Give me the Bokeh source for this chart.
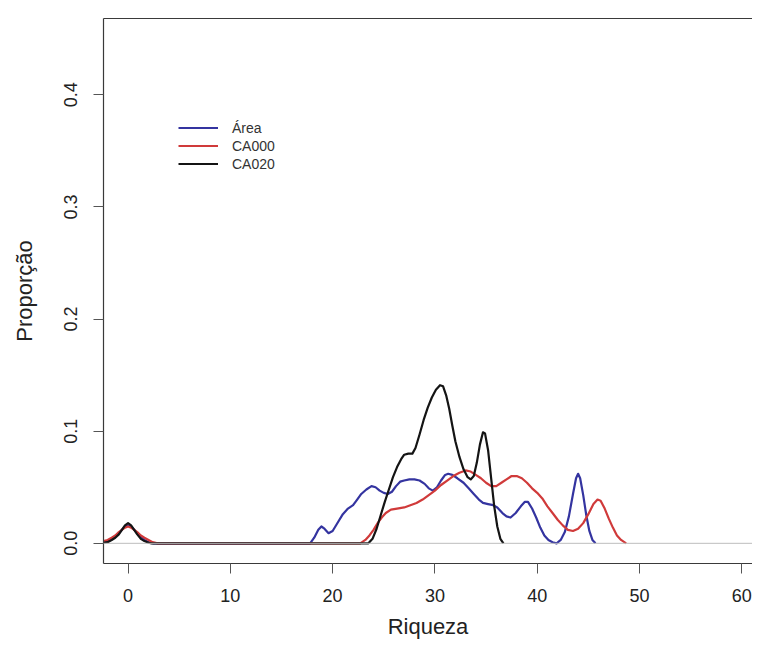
from bokeh.plotting import figure
from bokeh.models import Range1d, FixedTicker, LinearAxis, Legend, LegendItem, Span
from bokeh.embed import file_html
from bokeh.resources import INLINE

# ---- data ----
area_x = [-2.4, -2.0, -1.6, -1.25, -0.9, -0.6, -0.3, 0.0, 0.3, 0.6, 0.9, 1.25, 1.6, 2.0, 2.5,
          17.8, 18.2, 18.6, 18.9, 19.2, 19.6, 20.0, 20.4, 21.0, 21.5, 22.0, 22.4, 22.8, 23.3,
          23.8, 24.2, 24.6, 25.0, 25.4, 25.8, 26.2, 26.6, 27.0, 27.5, 28.0, 28.5, 29.0, 29.4,
          29.8, 30.2, 30.6, 31.0, 31.3, 31.7, 32.2, 32.8, 33.3, 33.8, 34.3, 34.7, 35.2, 35.7,
          36.1, 36.6, 37.0, 37.4, 37.9, 38.4, 38.8, 39.1, 39.5, 39.9, 40.3, 40.7, 41.1, 41.5,
          41.9, 42.3, 42.7, 43.1, 43.5, 43.8, 44.0, 44.2, 44.5, 44.8, 45.1, 45.4, 45.7]
area_y = [0.001, 0.002, 0.004, 0.006, 0.009, 0.012, 0.015, 0.016, 0.015, 0.012, 0.009, 0.006, 0.003, 0.001, 0.0,
          0.0, 0.005, 0.012, 0.015, 0.013, 0.009, 0.011, 0.017, 0.026, 0.031, 0.034, 0.039, 0.044, 0.048,
          0.051, 0.050, 0.047, 0.045, 0.044, 0.046, 0.051, 0.055, 0.056, 0.057, 0.057, 0.056, 0.053, 0.049,
          0.047, 0.050, 0.056, 0.061, 0.062, 0.061, 0.058, 0.054, 0.049, 0.044, 0.039, 0.036, 0.035, 0.034,
          0.032, 0.027, 0.024, 0.023, 0.027, 0.033, 0.037, 0.037, 0.031, 0.023, 0.014, 0.007, 0.003, 0.001,
          0.0, 0.003, 0.010, 0.024, 0.044, 0.058, 0.062, 0.058, 0.043, 0.025, 0.011, 0.003, 0.0]

ca000_x = [-2.4, -2.0, -1.6, -1.25, -0.9, -0.6, -0.3, 0.0, 0.3, 0.6, 0.9, 1.25, 1.6, 2.0, 2.4, 2.9,
           22.7, 23.2, 23.6, 24.0, 24.4, 24.8, 25.2, 25.7, 26.3, 27.0, 27.6, 28.2, 28.8, 29.4,
           30.0, 30.6, 31.2, 31.8, 32.4, 33.0, 33.5, 34.0, 34.5, 35.0, 35.5, 36.0, 36.5, 37.0,
           37.5, 38.0, 38.5, 39.0, 39.5, 40.0, 40.5, 41.0, 41.5, 42.0, 42.5, 43.0, 43.5, 44.0,
           44.5, 45.0, 45.5, 45.9, 46.2, 46.6, 47.0, 47.4, 47.8, 48.2, 48.7]
ca000_y = [0.002, 0.003, 0.005, 0.007, 0.010, 0.012, 0.014, 0.015, 0.014, 0.012, 0.010, 0.007, 0.005, 0.003, 0.001, 0.0,
           0.0, 0.003, 0.007, 0.012, 0.018, 0.023, 0.027, 0.030, 0.031, 0.032, 0.034, 0.036, 0.039, 0.043,
           0.047, 0.052, 0.056, 0.060, 0.063, 0.065, 0.064, 0.061, 0.058, 0.054, 0.051, 0.051, 0.054, 0.057,
           0.060, 0.060, 0.058, 0.054, 0.049, 0.045, 0.040, 0.033, 0.027, 0.021, 0.016, 0.012, 0.011, 0.013,
           0.018, 0.026, 0.035, 0.039, 0.038, 0.031, 0.022, 0.014, 0.007, 0.003, 0.0]

ca020_x = [-2.4, -2.0, -1.6, -1.25, -0.9, -0.6, -0.3, 0.0, 0.3, 0.6, 0.9, 1.25, 1.6, 2.0, 2.3,
           23.5, 23.9, 24.3, 24.7, 25.1, 25.5, 25.9, 26.3, 26.7, 27.0, 27.4, 27.8, 28.1, 28.5,
           28.9, 29.3, 29.7, 30.1, 30.5, 30.8, 31.1, 31.4, 31.7, 32.0, 32.4, 32.8, 33.2, 33.5,
           33.8, 34.1, 34.4, 34.7, 34.9, 35.2, 35.5, 35.8, 36.1, 36.4, 36.7]
ca020_y = [0.0005, 0.001, 0.003, 0.005, 0.008, 0.012, 0.016, 0.018, 0.016, 0.012, 0.008, 0.004, 0.002, 0.0005, 0.0,
           0.0, 0.004, 0.013, 0.025, 0.037, 0.048, 0.059, 0.068, 0.075, 0.079, 0.080, 0.080, 0.085, 0.097,
           0.110, 0.121, 0.130, 0.137, 0.141, 0.140, 0.132, 0.120, 0.105, 0.091, 0.077, 0.066, 0.059, 0.057,
           0.060, 0.072, 0.088, 0.099, 0.098, 0.083, 0.058, 0.033, 0.015, 0.004, 0.0]

series_names = ["Área", "CA000", "CA020"]
series_colors = ["#3434a0", "#d03a3a", "#141414"]
x_ticks = [0, 10, 20, 30, 40, 50, 60]
y_ticks = [0.0, 0.1, 0.2, 0.3, 0.4]
y_tick_labels = {0.0: "0.0", 0.1: "0.1", 0.2: "0.2", 0.3: "0.3", 0.4: "0.4"}

FONT = "Liberation Sans"
BOX = "#3a3a3a"

p = figure(width=752, height=645, output_backend="svg", toolbar_location=None,
           x_range=Range1d(-2.4, 61.05), y_range=Range1d(-0.018, 0.468),
           min_border_left=103, min_border_right=0, min_border_top=18, min_border_bottom=82,
           background_fill_color="white", border_fill_color="white")
p.outline_line_color = None
p.xgrid.visible = False
p.ygrid.visible = False

# zero reference line
p.add_layout(Span(location=0, dimension="width", line_color="#bdbdbd", line_width=1))

renderers = []
for xs, ys, c in [(area_x, area_y, series_colors[0]),
                  (ca000_x, ca000_y, series_colors[1]),
                  (ca020_x, ca020_y, series_colors[2])]:
    r = p.line(xs, ys, line_color=c, line_width=2.2, line_join="round")
    renderers.append(r)

# axes
xa = p.xaxis[0]
xa.ticker = FixedTicker(ticks=x_ticks)
xa.axis_label = "Riqueza"
xa.axis_line_color = BOX
xa.axis_line_width = 1.2
xa.major_tick_out = 10
xa.major_tick_in = 0
xa.minor_tick_out = 0
xa.major_tick_line_color = "#555555"
xa.major_label_text_font = FONT
xa.major_label_text_font_size = "18px"
xa.major_label_text_color = "#222222"
xa.major_label_standoff = 15
xa.axis_label_text_font = FONT
xa.axis_label_text_font_style = "normal"
xa.axis_label_text_font_size = "22px"
xa.axis_label_text_color = "#222222"
xa.axis_label_standoff = 9

ya = p.yaxis[0]
ya.ticker = FixedTicker(ticks=y_ticks)
ya.major_label_overrides = y_tick_labels
ya.axis_label = "Proporção"
ya.axis_line_color = BOX
ya.axis_line_width = 1.2
ya.major_tick_out = 10
ya.major_tick_in = 0
ya.minor_tick_out = 0
ya.major_tick_line_color = "#555555"
ya.major_label_orientation = "vertical"
ya.major_label_text_font = FONT
ya.major_label_text_font_size = "18px"
ya.major_label_text_color = "#222222"
ya.major_label_standoff = 16
ya.axis_label_text_font = FONT
ya.axis_label_text_font_style = "normal"
ya.axis_label_text_font_size = "22px"
ya.axis_label_text_color = "#222222"
ya.axis_label_standoff = 25

# top border of the box
top = LinearAxis(ticker=FixedTicker(ticks=[]), major_label_text_font_size="0px",
                 major_tick_out=0, major_tick_in=0, minor_tick_out=0, minor_tick_in=0,
                 major_label_standoff=0, axis_line_color=BOX, axis_line_width=1.2)
p.add_layout(top, "above")

legend = Legend(items=[LegendItem(label=n, renderers=[r]) for n, r in zip(series_names, renderers)],
                location=(75, 391), padding=0, margin=0, spacing=1,
                glyph_width=40, glyph_height=17, label_height=17, label_standoff=14,
                label_text_font=FONT, label_text_font_size="14px", label_text_color="#333333",
                border_line_color=None, background_fill_alpha=0)
p.add_layout(legend, "center")

open("out.html", "w").write(file_html(p, INLINE))
